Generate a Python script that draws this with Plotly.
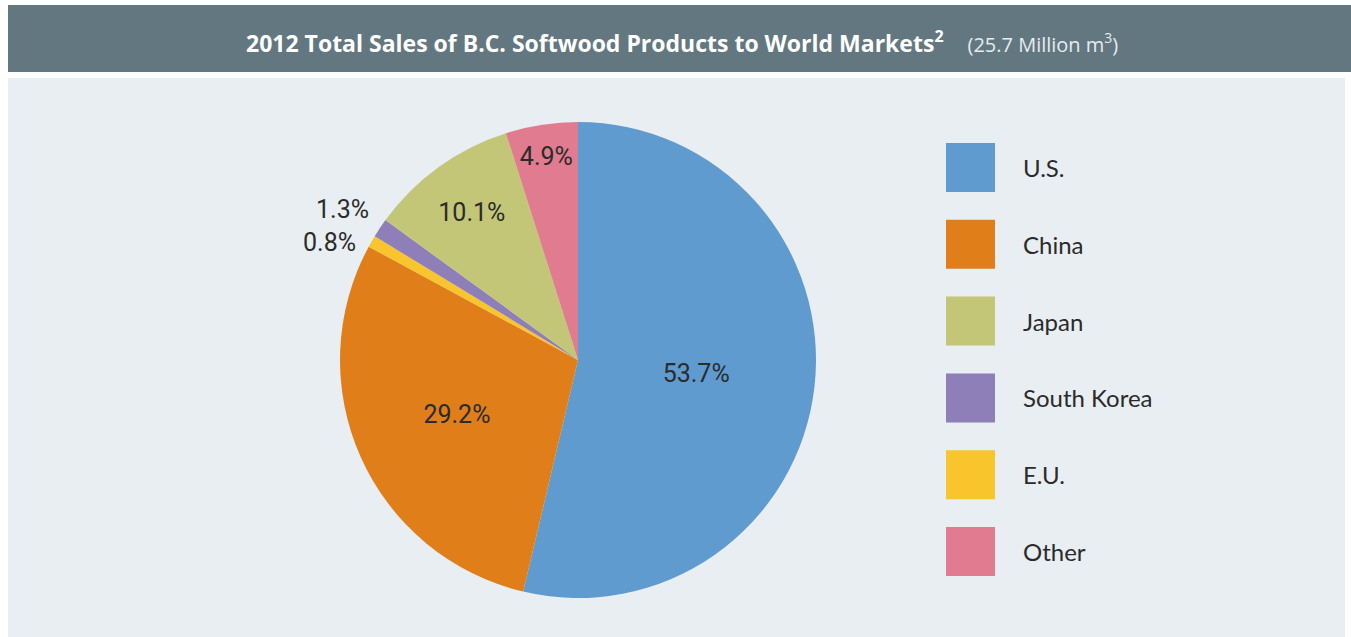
import plotly.graph_objects as go

W, H = 1351, 637

# Data (slice order, clockwise from 12 o'clock)
slice_labels = ["U.S.", "China", "E.U.", "South Korea", "Japan", "Other"]
slice_values = [53.7, 29.2, 0.8, 1.3, 10.1, 4.9]
slice_colors = ["#5f9bcf", "#e07f1a", "#f8c52c", "#8f7fb8", "#c4c677", "#e07b90"]

# Legend order
legend_labels = ["U.S.", "China", "Japan", "South Korea", "E.U.", "Other"]

title_main = "2012 Total Sales of B.C. Softwood Products to World Markets"
title_sub = "(25.7 Million m<sup>3</sup>)"

color_map = dict(zip(slice_labels, slice_colors))
value_map = dict(zip(slice_labels, slice_values))

def px(x):
    return x / W

def py(y):
    return 1 - y / H

small = [v < 3 for v in slice_values]
texts = ["" if s else f"{v:.1f}%" for v, s in zip(slice_values, small)]

fig = go.Figure()
fig.add_trace(go.Pie(
    labels=slice_labels,
    values=slice_values,
    sort=False,
    direction="clockwise",
    rotation=0,
    marker=dict(colors=slice_colors, line=dict(width=0)),
    text=texts,
    textinfo="text",
    textposition="inside",
    insidetextorientation="horizontal",
    textfont=dict(family="Roboto", size=25, color="#2b2b2b"),
    showlegend=False,
    hoverinfo="label+value",
    domain=dict(x=[px(340), px(816)], y=[py(598), py(122)]),
))

shapes = [
    # title bar
    dict(type="rect", xref="paper", yref="paper", x0=px(8), x1=1, y0=py(72), y1=py(5),
         fillcolor="#637781", line=dict(width=0), layer="below"),
    # light panel
    dict(type="rect", xref="paper", yref="paper", x0=px(8), x1=px(1345), y0=0, y1=py(78),
         fillcolor="#e9eef2", line=dict(width=0), layer="below"),
]
annotations = [
    dict(xref="paper", yref="paper", x=px(682), y=py(42), xanchor="center", yanchor="middle",
         showarrow=False,
         text=f"<b>{title_main}<sup>2</sup></b>    <span style='font-size:20px;color:#e6ecef'>{title_sub}</span>",
         font=dict(family="Open Sans", size=23, color="white")),
]

# labels for the two thin slices, placed outside the pie
outside_pos = {"South Korea": (371, 210), "E.U.": (358, 242)}
for lab, (x, y) in outside_pos.items():
    annotations.append(dict(xref="paper", yref="paper", x=px(x), y=py(y), xanchor="right",
                            yanchor="middle", showarrow=False, text=f"{value_map[lab]:.1f}%",
                            font=dict(family="Roboto", size=25, color="#2b2b2b")))

top0, step, size = 143, 76.8, 49
for i, lab in enumerate(legend_labels):
    y0 = top0 + i * step
    shapes.append(dict(type="rect", xref="paper", yref="paper",
                       x0=px(946), x1=px(946 + size), y0=py(y0 + size), y1=py(y0),
                       fillcolor=color_map[lab], line=dict(width=0)))
    annotations.append(dict(xref="paper", yref="paper", x=px(1021), y=py(y0 + size / 2),
                            xanchor="left", yanchor="middle", showarrow=False, text=lab,
                            font=dict(family="Lato", size=24, color="#2b2b2b")))

fig.update_layout(
    width=W, height=H,
    margin=dict(l=0, r=0, t=0, b=0),
    paper_bgcolor="white",
    plot_bgcolor="white",
    shapes=shapes,
    annotations=annotations,
)

fig.write_html("out.html")
